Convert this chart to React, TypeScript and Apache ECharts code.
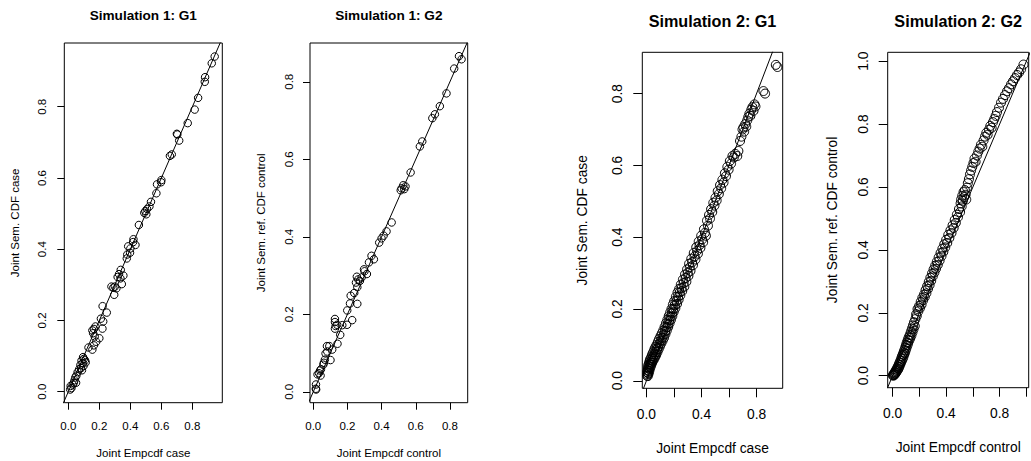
import React, { useEffect, useRef } from "react";
import * as echarts from "echarts";

// ---------- data ----------
const titles = ["Simulation 1: G1", "Simulation 1: G2", "Simulation 2: G1", "Simulation 2: G2"];
const xNames = ["Joint Empcdf case", "Joint Empcdf control", "Joint Empcdf case", "Joint Empcdf control"];
const yNames = ["Joint Sem. CDF case", "Joint Sem. ref. CDF control", "Joint Sem. CDF case", "Joint Sem. ref. CDF control"];

const xRanges: number[][] = [[-0.026, 0.993], [-0.019, 0.904], [-0.03, 0.99], [-0.037, 1.017]];
const yRanges: number[][] = [[-0.031, 0.979], [-0.028, 0.9], [-0.021, 0.915], [-0.038, 1.028]];

const xTicks: number[][] = [
  [0, 0.2, 0.4, 0.6, 0.8],
  [0, 0.2, 0.4, 0.6, 0.8],
  [0, 0.2, 0.4, 0.6, 0.8],
  [0, 0.2, 0.4, 0.6, 0.8, 1.0],
];
const xTickLabels: number[][] = [
  [0, 0.2, 0.4, 0.6, 0.8],
  [0, 0.2, 0.4, 0.6, 0.8],
  [0, 0.4, 0.8],
  [0, 0.4, 0.8],
];
const yTicks: number[][] = [
  [0, 0.2, 0.4, 0.6, 0.8],
  [0, 0.2, 0.4, 0.6, 0.8],
  [0, 0.2, 0.4, 0.6, 0.8],
  [0, 0.2, 0.4, 0.6, 0.8, 1.0],
];

const sim1G1: number[][] = [
  [0.944, 0.941], [0.925, 0.922], [0.882, 0.883], [0.880, 0.870], [0.837, 0.825], [0.815, 0.792],
  [0.770, 0.754], [0.700, 0.724], [0.703, 0.722], [0.715, 0.705], [0.655, 0.662], [0.667, 0.666],
  [0.600, 0.594], [0.598, 0.588], [0.572, 0.582], [0.568, 0.557], [0.533, 0.533], [0.523, 0.520],
  [0.508, 0.513], [0.497, 0.507], [0.490, 0.502], [0.503, 0.498], [0.455, 0.468], [0.420, 0.428],
  [0.418, 0.420], [0.433, 0.412], [0.400, 0.402], [0.386, 0.408], [0.398, 0.390], [0.380, 0.385],
  [0.377, 0.374], [0.338, 0.342], [0.327, 0.330], [0.318, 0.322], [0.355, 0.326], [0.336, 0.318],
  [0.345, 0.302], [0.300, 0.295], [0.290, 0.292], [0.296, 0.272], [0.278, 0.295], [0.310, 0.290],
  [0.221, 0.240], [0.248, 0.222], [0.225, 0.197], [0.210, 0.205], [0.200, 0.150], [0.165, 0.176],
  [0.175, 0.183], [0.155, 0.172], [0.160, 0.164], [0.170, 0.155], [0.180, 0.140], [0.165, 0.130],
  [0.155, 0.118], [0.220, 0.177], [0.130, 0.124], [0.095, 0.097], [0.100, 0.092], [0.108, 0.088],
  [0.085, 0.087], [0.112, 0.082], [0.092, 0.080], [0.078, 0.075], [0.098, 0.072], [0.082, 0.066],
  [0.070, 0.063], [0.088, 0.060], [0.060, 0.055], [0.052, 0.045], [0.045, 0.040], [0.040, 0.032],
  [0.050, 0.025], [0.035, 0.025], [0.028, 0.020], [0.015, 0.016], [0.020, 0.010], [0.012, 0.006],
];

const sim1G2: number[][] = [
  [0.853, 0.866], [0.868, 0.858], [0.825, 0.834], [0.780, 0.770], [0.741, 0.737], [0.712, 0.716],
  [0.697, 0.706], [0.638, 0.646], [0.624, 0.633], [0.570, 0.566], [0.533, 0.523], [0.517, 0.525],
  [0.540, 0.530], [0.527, 0.533], [0.512, 0.520], [0.459, 0.437], [0.429, 0.414], [0.412, 0.403],
  [0.400, 0.396], [0.386, 0.385], [0.355, 0.342], [0.341, 0.351], [0.326, 0.334], [0.314, 0.304],
  [0.297, 0.316], [0.300, 0.311], [0.283, 0.295], [0.273, 0.286], [0.263, 0.290], [0.255, 0.297],
  [0.250, 0.282], [0.258, 0.270], [0.240, 0.255], [0.219, 0.248], [0.215, 0.228], [0.258, 0.227],
  [0.199, 0.210], [0.228, 0.185], [0.198, 0.173], [0.170, 0.172], [0.158, 0.147], [0.142, 0.124],
  [0.127, 0.188], [0.127, 0.180], [0.131, 0.170], [0.127, 0.163], [0.140, 0.173], [0.111, 0.109],
  [0.101, 0.082], [0.094, 0.118], [0.080, 0.118], [0.082, 0.104], [0.072, 0.099], [0.068, 0.083],
  [0.062, 0.075], [0.059, 0.070], [0.045, 0.058], [0.040, 0.055], [0.033, 0.048], [0.043, 0.042],
  [0.025, 0.045], [0.016, 0.019], [0.015, 0.008], [0.017, 0.006],
];

const sim2G1: number[][] = [
  [0.005, 0.014], [0.006, 0.024], [0.008, 0.018], [0.009, 0.030], [0.010, 0.013], [0.011, 0.036],
  [0.012, 0.022], [0.013, 0.042], [0.014, 0.028], [0.016, 0.020], [0.017, 0.046], [0.018, 0.034],
  [0.020, 0.026], [0.021, 0.052], [0.022, 0.040], [0.024, 0.032], [0.025, 0.058], [0.027, 0.046],
  [0.029, 0.038], [0.031, 0.062], [0.033, 0.050], [0.035, 0.044], [0.037, 0.068], [0.039, 0.056],
  [0.041, 0.050], [0.043, 0.074], [0.045, 0.062], [0.047, 0.055], [0.050, 0.080], [0.052, 0.068],
  [0.055, 0.060], [0.058, 0.088], [0.060, 0.074], [0.063, 0.066], [0.066, 0.094], [0.068, 0.080],
  [0.071, 0.072], [0.074, 0.100], [0.077, 0.088], [0.080, 0.080], [0.083, 0.108], [0.086, 0.095],
  [0.089, 0.088], [0.092, 0.116], [0.095, 0.104], [0.098, 0.096], [0.102, 0.124], [0.105, 0.112],
  [0.108, 0.104], [0.112, 0.132], [0.115, 0.120], [0.118, 0.112], [0.122, 0.140], [0.125, 0.128],
  [0.128, 0.120], [0.132, 0.150], [0.135, 0.138], [0.138, 0.130], [0.142, 0.160], [0.145, 0.148],
  [0.148, 0.140], [0.152, 0.170], [0.155, 0.158], [0.158, 0.150], [0.162, 0.180], [0.165, 0.168],
  [0.168, 0.160], [0.172, 0.190], [0.175, 0.178], [0.178, 0.170], [0.182, 0.200], [0.185, 0.188],
  [0.188, 0.180], [0.192, 0.212], [0.195, 0.200], [0.198, 0.192], [0.202, 0.222], [0.206, 0.210],
  [0.210, 0.202], [0.214, 0.234], [0.218, 0.222], [0.222, 0.214], [0.226, 0.246], [0.230, 0.234],
  [0.234, 0.226], [0.238, 0.256], [0.242, 0.246], [0.246, 0.238], [0.250, 0.268], [0.255, 0.258],
  [0.260, 0.250], [0.265, 0.282], [0.270, 0.272], [0.275, 0.262], [0.280, 0.296], [0.285, 0.286],
  [0.290, 0.276], [0.295, 0.310], [0.300, 0.300], [0.305, 0.292], [0.310, 0.326], [0.315, 0.316],
  [0.320, 0.306], [0.326, 0.340], [0.332, 0.330], [0.338, 0.322], [0.344, 0.356], [0.350, 0.346],
  [0.356, 0.338], [0.362, 0.372], [0.368, 0.362], [0.374, 0.354], [0.380, 0.388], [0.386, 0.378],
  [0.392, 0.370], [0.398, 0.404], [0.405, 0.394], [0.412, 0.386], [0.418, 0.422], [0.425, 0.412],
  [0.432, 0.404], [0.440, 0.446], [0.447, 0.432], [0.455, 0.462], [0.462, 0.452], [0.470, 0.478],
  [0.478, 0.470], [0.486, 0.496], [0.494, 0.488], [0.502, 0.510], [0.510, 0.502], [0.518, 0.528],
  [0.526, 0.520], [0.535, 0.545], [0.543, 0.536], [0.552, 0.560], [0.560, 0.552], [0.570, 0.578],
  [0.578, 0.570], [0.588, 0.596], [0.597, 0.588], [0.606, 0.612], [0.615, 0.605], [0.625, 0.626],
  [0.635, 0.622], [0.645, 0.632], [0.660, 0.626], [0.668, 0.640], [0.680, 0.668], [0.690, 0.680],
  [0.698, 0.700], [0.705, 0.706], [0.710, 0.694], [0.718, 0.715], [0.725, 0.708], [0.732, 0.725],
  [0.740, 0.735], [0.748, 0.744], [0.755, 0.738], [0.762, 0.755], [0.770, 0.762], [0.778, 0.752],
  [0.785, 0.770], [0.792, 0.764], [0.850, 0.807], [0.862, 0.800], [0.940, 0.880], [0.952, 0.874],
];

const sim2G2: number[][] = [
  [0.002, 0.002], [0.005, 0.000], [0.008, 0.005], [0.010, 0.002], [0.012, 0.008], [0.015, 0.004],
  [0.018, 0.012], [0.020, 0.007], [0.023, 0.016], [0.026, 0.010], [0.028, 0.020], [0.031, 0.014],
  [0.034, 0.025], [0.037, 0.018], [0.040, 0.030], [0.043, 0.022], [0.046, 0.036], [0.049, 0.028],
  [0.052, 0.042], [0.055, 0.034], [0.058, 0.048], [0.061, 0.040], [0.064, 0.055], [0.067, 0.046],
  [0.070, 0.062], [0.073, 0.052], [0.076, 0.068], [0.079, 0.058], [0.082, 0.075], [0.085, 0.066],
  [0.088, 0.082], [0.091, 0.072], [0.094, 0.090], [0.097, 0.080], [0.100, 0.098], [0.103, 0.088],
  [0.106, 0.106], [0.110, 0.096], [0.113, 0.114], [0.116, 0.104], [0.120, 0.122], [0.124, 0.112],
  [0.128, 0.130], [0.132, 0.120], [0.136, 0.140], [0.140, 0.128], [0.144, 0.150], [0.148, 0.138],
  [0.152, 0.160], [0.156, 0.148], [0.160, 0.170], [0.165, 0.158], [0.170, 0.180], [0.175, 0.195],
  [0.180, 0.190], [0.186, 0.212], [0.192, 0.205], [0.198, 0.222], [0.204, 0.215], [0.210, 0.235],
  [0.216, 0.226], [0.222, 0.248], [0.228, 0.240], [0.234, 0.258], [0.240, 0.250], [0.246, 0.272],
  [0.252, 0.262], [0.258, 0.285], [0.264, 0.276], [0.270, 0.298], [0.276, 0.288], [0.282, 0.312],
  [0.288, 0.302], [0.294, 0.325], [0.300, 0.316], [0.306, 0.338], [0.312, 0.328], [0.318, 0.350],
  [0.324, 0.340], [0.330, 0.362], [0.337, 0.352], [0.344, 0.376], [0.351, 0.366], [0.358, 0.390],
  [0.365, 0.380], [0.372, 0.404], [0.379, 0.394], [0.386, 0.418], [0.393, 0.408], [0.400, 0.432],
  [0.408, 0.422], [0.416, 0.448], [0.424, 0.438], [0.432, 0.462], [0.440, 0.454], [0.448, 0.478],
  [0.456, 0.470], [0.464, 0.495], [0.472, 0.486], [0.480, 0.512], [0.488, 0.504], [0.496, 0.530],
  [0.504, 0.520], [0.508, 0.548], [0.512, 0.560], [0.516, 0.538], [0.520, 0.572], [0.525, 0.556],
  [0.530, 0.584], [0.535, 0.568], [0.540, 0.590], [0.545, 0.575], [0.550, 0.560], [0.556, 0.598],
  [0.562, 0.612], [0.570, 0.625], [0.578, 0.640], [0.586, 0.652], [0.595, 0.664], [0.604, 0.676],
  [0.612, 0.690], [0.620, 0.680], [0.630, 0.700], [0.640, 0.712], [0.650, 0.722], [0.660, 0.734],
  [0.670, 0.728], [0.680, 0.748], [0.690, 0.760], [0.700, 0.772], [0.710, 0.766], [0.720, 0.782],
  [0.730, 0.794], [0.740, 0.788], [0.750, 0.806], [0.760, 0.816], [0.770, 0.826], [0.780, 0.838],
  [0.795, 0.852], [0.810, 0.868], [0.825, 0.880], [0.840, 0.892], [0.855, 0.904], [0.870, 0.914],
  [0.885, 0.926], [0.900, 0.936], [0.915, 0.946], [0.930, 0.956], [0.945, 0.964], [0.960, 0.974],
  [0.978, 0.989],
];

const panelData = [sim1G1, sim1G2, sim2G1, sim2G2];

// ---------- layout ----------
const FONT = "'Liberation Sans', Arial, Helvetica, sans-serif";
const layout = [
  { left: 64.3, top: 43, width: 158, height: 359.7, font: 11.5, titleFont: 13.6, titleY: 15, tick: 7, xLabelMargin: 17, yLabelMargin: 16, xNameGap: 44, yNameGap: 43, sym: 7.5 },
  { left: 310, top: 43, width: 157.7, height: 359.7, font: 11.5, titleFont: 13.6, titleY: 15, tick: 7, xLabelMargin: 17, yLabelMargin: 15, xNameGap: 44, yNameGap: 43.5, sym: 7.5 },
  { left: 642.3, top: 52.3, width: 140.4, height: 336, font: 13.8, titleFont: 16.2, titleY: 20.5, tick: 9, xLabelMargin: 19, yLabelMargin: 18, xNameGap: 53, yNameGap: 53, sym: 9 },
  { left: 887.7, top: 52.3, width: 141, height: 335.4, font: 13.8, titleFont: 16.2, titleY: 20.5, tick: 9, xLabelMargin: 19, yLabelMargin: 17, xNameGap: 53, yNameGap: 48, sym: 9 },
];

const fmt = (v: number) => v.toFixed(1);

function buildOption() {
  const grid: any[] = [];
  const xAxis: any[] = [];
  const yAxis: any[] = [];
  const series: any[] = [];
  const graphic: any[] = [];

  layout.forEach((L, i) => {
    grid.push({
      left: L.left, top: L.top, width: L.width, height: L.height,
      show: true, borderColor: "#000", borderWidth: 1, backgroundColor: "transparent",
      containLabel: false, outerBoundsMode: "none",
    });
    const textStyle = { fontFamily: FONT, fontSize: L.font, color: "#000" };
    xAxis.push({
      type: "value", gridIndex: i, min: xRanges[i][0], max: xRanges[i][1],
      name: xNames[i], nameLocation: "middle", nameGap: L.xNameGap, nameTextStyle: textStyle,
      axisLine: { show: false, onZero: false },
      splitLine: { show: false },
      axisTick: { show: true, inside: false, length: L.tick, lineStyle: { color: "#000", width: 1 }, customValues: xTicks[i] },
      axisLabel: { customValues: xTickLabels[i], formatter: fmt, margin: L.xLabelMargin, ...textStyle },
    });
    yAxis.push({
      type: "value", gridIndex: i, min: yRanges[i][0], max: yRanges[i][1],
      name: yNames[i], nameLocation: "middle", nameGap: L.yNameGap, nameRotate: 90, nameTextStyle: textStyle,
      axisLine: { show: false, onZero: false },
      splitLine: { show: false },
      axisTick: { show: true, inside: false, length: L.tick, lineStyle: { color: "#000", width: 1 }, customValues: yTicks[i] },
      axisLabel: { customValues: yTicks[i], formatter: fmt, margin: L.yLabelMargin, rotate: 90, ...textStyle },
    });
    series.push({
      type: "scatter", xAxisIndex: i, yAxisIndex: i, data: panelData[i],
      symbol: "circle", symbolSize: L.sym, silent: true,
      itemStyle: { color: "rgba(0,0,0,0)", borderColor: "#000", borderWidth: 1, opacity: 1 },
      emphasis: { disabled: true },
    });
    const lo = Math.min(xRanges[i][0], yRanges[i][0]) - 0.1;
    const hi = Math.max(xRanges[i][1], yRanges[i][1]) + 0.1;
    series.push({
      type: "line", xAxisIndex: i, yAxisIndex: i, data: [[lo, lo], [hi, hi]],
      showSymbol: false, symbol: "none", clip: true, silent: true,
      lineStyle: { color: "#000", width: 1 },
      emphasis: { disabled: true },
    });
    graphic.push({
      type: "text", x: L.left + L.width / 2, y: L.titleY,
      style: { text: titles[i], fontFamily: FONT, fontWeight: "bold", fontSize: L.titleFont, fill: "#000", align: "center", verticalAlign: "middle" },
    });
  });

  return { animation: false, backgroundColor: "#fff", grid, xAxis, yAxis, series, graphic };
}

export default function App() {
  const ref = useRef<HTMLDivElement>(null);
  useEffect(() => {
    if (!ref.current) return;
    const chart = echarts.init(ref.current, undefined, { renderer: "svg" });
    chart.setOption(buildOption() as any);
    return () => chart.dispose();
  }, []);
  return <div ref={ref} style={{ position: "absolute", left: 0, top: 0, width: 1031, height: 461 }} />;
}
